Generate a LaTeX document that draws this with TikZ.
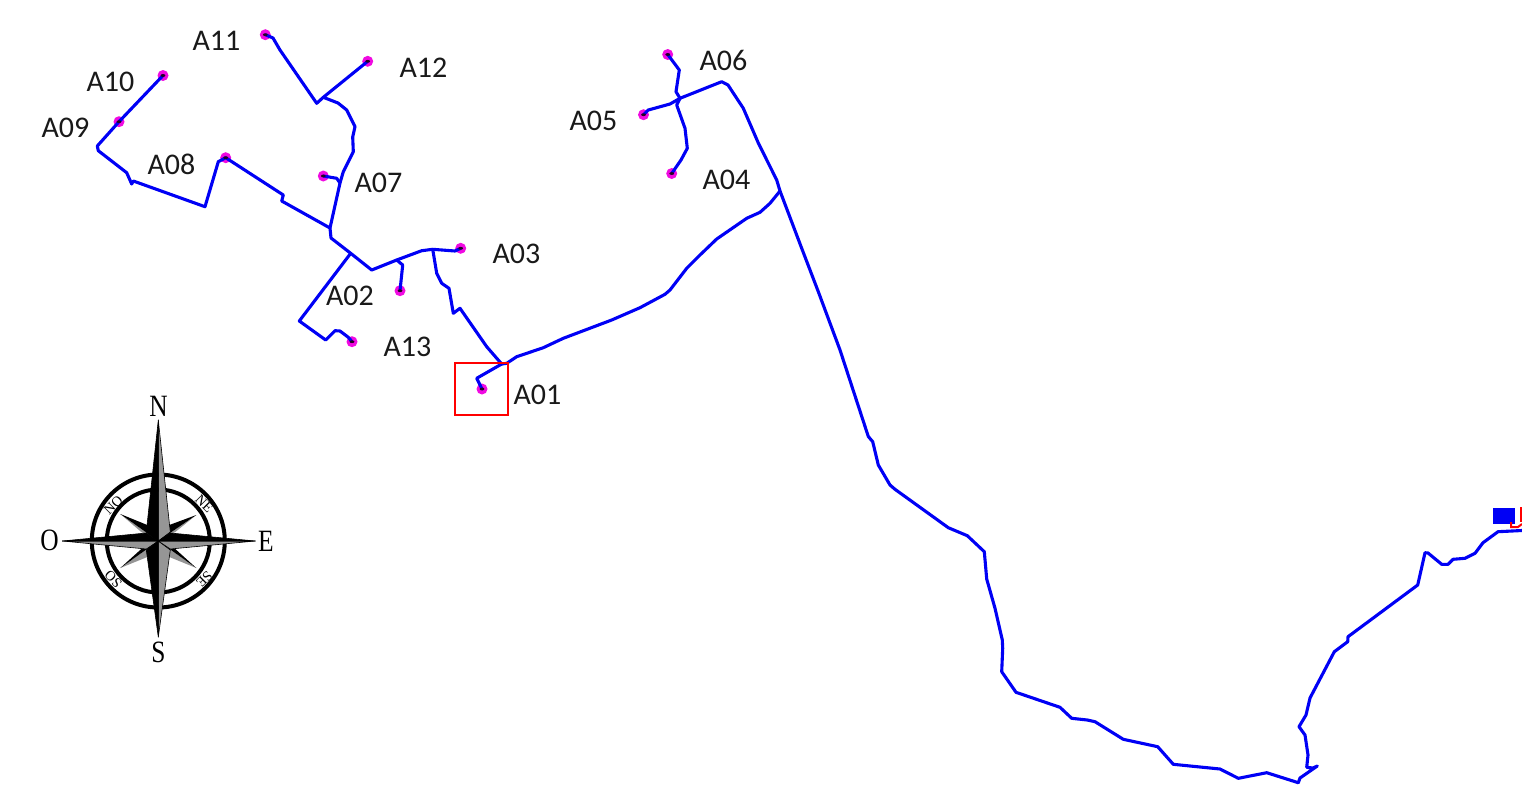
\documentclass[tikz,border=0pt]{standalone}
\usepackage{fontspec}
\setmainfont{Carlito}
\newfontfamily\compassfont{Liberation Serif}
\definecolor{routeblue}{RGB}{0,0,245}
\definecolor{sitepink}{RGB}{240,10,225}
\definecolor{armgray}{RGB}{150,150,150}
\tikzset{
  route/.style={draw=routeblue,line width=3.1pt,line join=round,line cap=round},
  site/.style={circle,fill=sitepink,minimum size=11pt,inner sep=0pt},
  lab/.style={font=\fontsize{30}{32}\selectfont,inner sep=0pt,text=black!90},
  card/.style={font=\compassfont\fontsize{31}{32}\selectfont,inner sep=0pt,xscale=.82,transform shape},
  minor/.style={font=\compassfont\fontsize{14}{15}\selectfont,inner sep=0pt},
  ring/.style={draw=black,line width=4pt},
  darkarm/.style={fill=black,draw=black,line width=.6pt,line join=round},
  lightarm/.style={fill=armgray,draw=black,line width=.6pt,line join=round},
}
\begin{document}
\begin{tikzpicture}[x=1pt,y=-1pt]
\useasboundingbox (0,0) rectangle (1522,809);
\clip (0,0) rectangle (1522,809);
% sites
\foreach \n/\x/\y in {a01/482/389,a02/400/290.7,a03/460.7/248.3,a04/671.7/173.5,a05/643.5/114.7,a06/667.7/54.5,a07/323.3/176,a08/225.7/157.7,a09/119/121.7,a10/163/75.5,a11/265.3/34.7,a12/367.7/61.3,a13/352/341.7}
  {\node[site] (\n) at (\x,\y) {};}
% junctions
\coordinate (jtop) at (680,98.3);
\coordinate (jbend) at (721.7,81.7);
\coordinate (jfork) at (780,191);
\coordinate (jhub) at (501.7,364);
\coordinate (jcross) at (432.7,249.3);
\coordinate (jmid) at (330,228);
\coordinate (jlow) at (350.7,253.3);
\coordinate (jn) at (323.3,97.3);
\coordinate (jdrop) at (396.7,260);
\coordinate (jseven) at (340,183);
\coordinate (jright) at (1522,530.5);
\coordinate (jtail) at (1298.3,782.7);
% trunk
\draw[route] (jright) -- (1498,531.7) -- (1483,542.7) -- (1475,553.3) -- (1465,558.3) -- (1453,559.3) -- (1448,564.3) -- (1441.7,564.3) -- (1428,553) -- (1425,552.7) -- (1417.7,585) -- (1348,636.7) -- (1347.7,641.7) -- (1334.3,651.7) -- (1310,698) -- (1306,715) -- (1299,726.7) -- (1305,735) -- (1308,755) -- (1306.7,767.3) -- (1313,768) -- (1317.3,766) -- (1300,778) -- (jtail);
\draw[route] (jtail) -- (1266.7,772.7) -- (1238.3,778.3) -- (1220,769) -- (1173.3,764.3) -- (1157.7,746.7) -- (1123.3,739.3) -- (1095,721.7) -- (1087.3,720) -- (1071.7,718.3) -- (1060,707.3) -- (1016,692.3) -- (1001.7,671.7) -- (1002.7,648.3) -- (1002.3,640) -- (995,608.3) -- (986.7,579) -- (984.3,551.7) -- (967.3,535.7) -- (948.3,527.7) -- (895,489.3) -- (890,485) -- (878.3,465) -- (872.7,441.7) -- (868.3,436.5) -- (840,350) -- (818.3,291.7) -- (801.7,248.3) -- (jfork) -- (776.7,180) -- (758.3,143) -- (743.3,108.3) -- (728,85) -- (jbend) -- (jtop);
% A04--A06
\draw[route] (a06.center) -- (679.3,70) -- (676,91.7) -- (jtop);
\draw[route] (a05.center) -- (648.3,110) -- (670,104) -- (jtop);
\draw[route] (a04.center) -- (681,160) -- (687.3,148.3) -- (685,128.3) -- (676.7,105) -- (jtop);
% long branch to hub
\draw[route] (jfork) -- (770,203.3) -- (760,212.3) -- (746.7,218.3) -- (716.7,239) -- (700,255) -- (686.7,268.3) -- (670,290) -- (665,294.3) -- (640,307.7) -- (611.7,320) -- (563.3,338.3) -- (543.3,347.7) -- (516.7,356.7) -- (506.7,363.3) -- (jhub);
\draw[route] (jhub) -- (476.7,378.3) -- (a01.center);
\draw[route] (jhub) -- (486.7,346.7) -- (460,308.3) -- (453.3,313.3) -- (449,288.3) -- (441.7,283.3) -- (436.7,273.3) -- (jcross);
% west network
\draw[route] (a03.center) -- (455,251) -- (jcross) -- (421.7,250.7) -- (jdrop) -- (371.7,270) -- (jlow) -- (331,238) -- (jmid) -- (jseven) -- (343.3,171.7) -- (353.3,151.7) -- (352.7,137) -- (355,126.7) -- (346.7,110) -- (338,103) -- (jn) -- (316.7,103.3) -- (280,50) -- (273,38) -- (a11.center);
\draw[route] (a12.center) -- (jn);
\draw[route] (a07.center) -- (336.7,178.3) -- (jseven);
\draw[route] (jmid) -- (281.7,201) -- (283.3,195) -- (a08.center) -- (218.3,161.7) -- (205,206.7) -- (133.3,181) -- (131.7,184) -- (126.7,172.7) -- (98.3,150.7) -- (97.3,146) -- (a09.center) -- (a10.center);
\draw[route] (a02.center) -- (402.7,265) -- (jdrop);
\draw[route] (jlow) -- (299.3,321) -- (325.7,340) -- (335,330.7) -- (340,331) -- (348.3,337.3) -- (a13.center);
% site centres
\foreach \n in {a01,a02,a03,a04,a05,a06,a07,a08,a09,a10,a11,a12,a13}
  {\fill[black!85!sitepink] (\n.center) ellipse (2.4pt and 1.4pt);}
% red frame
\node[draw=red,line width=1.8pt,minimum width=53pt,minimum height=52pt,inner sep=0pt] (frame) at (481.5,389) {};
% outlet symbol
\node[fill=routeblue,minimum width=22pt,minimum height=16pt,inner sep=0pt] (outlet) at (1504,516) {};
\draw[red,line width=2pt] (1511,522) -- (1511,527) -- (1518,527) -- (1522,524);
\draw[red,line width=2.6pt] (1521,507) -- (1521,522);
% labels
\foreach \t/\x/\y in {A11/216.5/40.5,A12/423.5/67.5,A10/110.5/81.5,A09/65.5/127.5,A08/171.5/164.5,A07/378.5/182.5,A06/723.5/60.5,A05/593.5/120.5,A04/726.5/179.5,A03/516.5/254,A02/350/296,A13/407.5/347,A01/537.5/395}
  {\node[lab] (l\t) at (\x,\y) {\t};}
% compass
\begin{scope}[shift={(158.3,541)}]
  \draw[ring,fill=white] (0,0) circle (66.5);
  \draw[ring] (0,0) circle (51.5);
  \node[minor,rotate=45] (cno) at (-45,-36) {NO};
  \node[minor,rotate=-45] (cne) at (46,-37) {NE};
  \node[minor,rotate=135] (cso) at (-45,38) {SO};
  \node[minor,rotate=-135] (cse) at (46,38) {SE};
  % diagonal arms
  \fill[armgray] (-38,-27) -- (-17,-9) -- (0,0) -- cycle;
  \fill[black] (-38,-27) -- (-11,-16) -- (0,0) -- cycle;
  \fill[armgray] (38,-26) -- (17,-9) -- (0,0) -- cycle;
  \fill[black] (38,-26) -- (11,-16) -- (0,0) -- cycle;
  \fill[armgray] (38,27) -- (11,16) -- (0,0) -- cycle;
  \fill[black] (38,27) -- (17,8) -- (0,0) -- cycle;
  \fill[armgray] (-38,27) -- (-11,16) -- (0,0) -- cycle;
  \fill[black] (-38,27) -- (-17,8) -- (0,0) -- cycle;
  % main arms
  \path[lightarm] (0,-121) -- (12,-9) -- (0,0) -- cycle;
  \path[lightarm] (0,96) -- (12,9) -- (0,0) -- cycle;
  \path[lightarm] (-96,0) -- (-12,8) -- (0,0) -- cycle;
  \path[lightarm] (97,0) -- (12,8) -- (0,0) -- cycle;
  \path[darkarm] (0,-121) -- (-12,-9) -- (0,0) -- cycle;
  \path[darkarm] (0,96) -- (-12,9) -- (0,0) -- cycle;
  \path[darkarm] (-96,0) -- (-12,-8) -- (0,0) -- cycle;
  \path[darkarm] (97,0) -- (12,-8) -- (0,0) -- cycle;
\end{scope}
\node[card] (cN) at (158.5,406) {N};
\node[card] (cS) at (158.5,652) {S};
\node[card] (cE) at (266,541.5) {E};
\node[card] (cO) at (49.5,540.5) {O};
\end{tikzpicture}
\end{document}
